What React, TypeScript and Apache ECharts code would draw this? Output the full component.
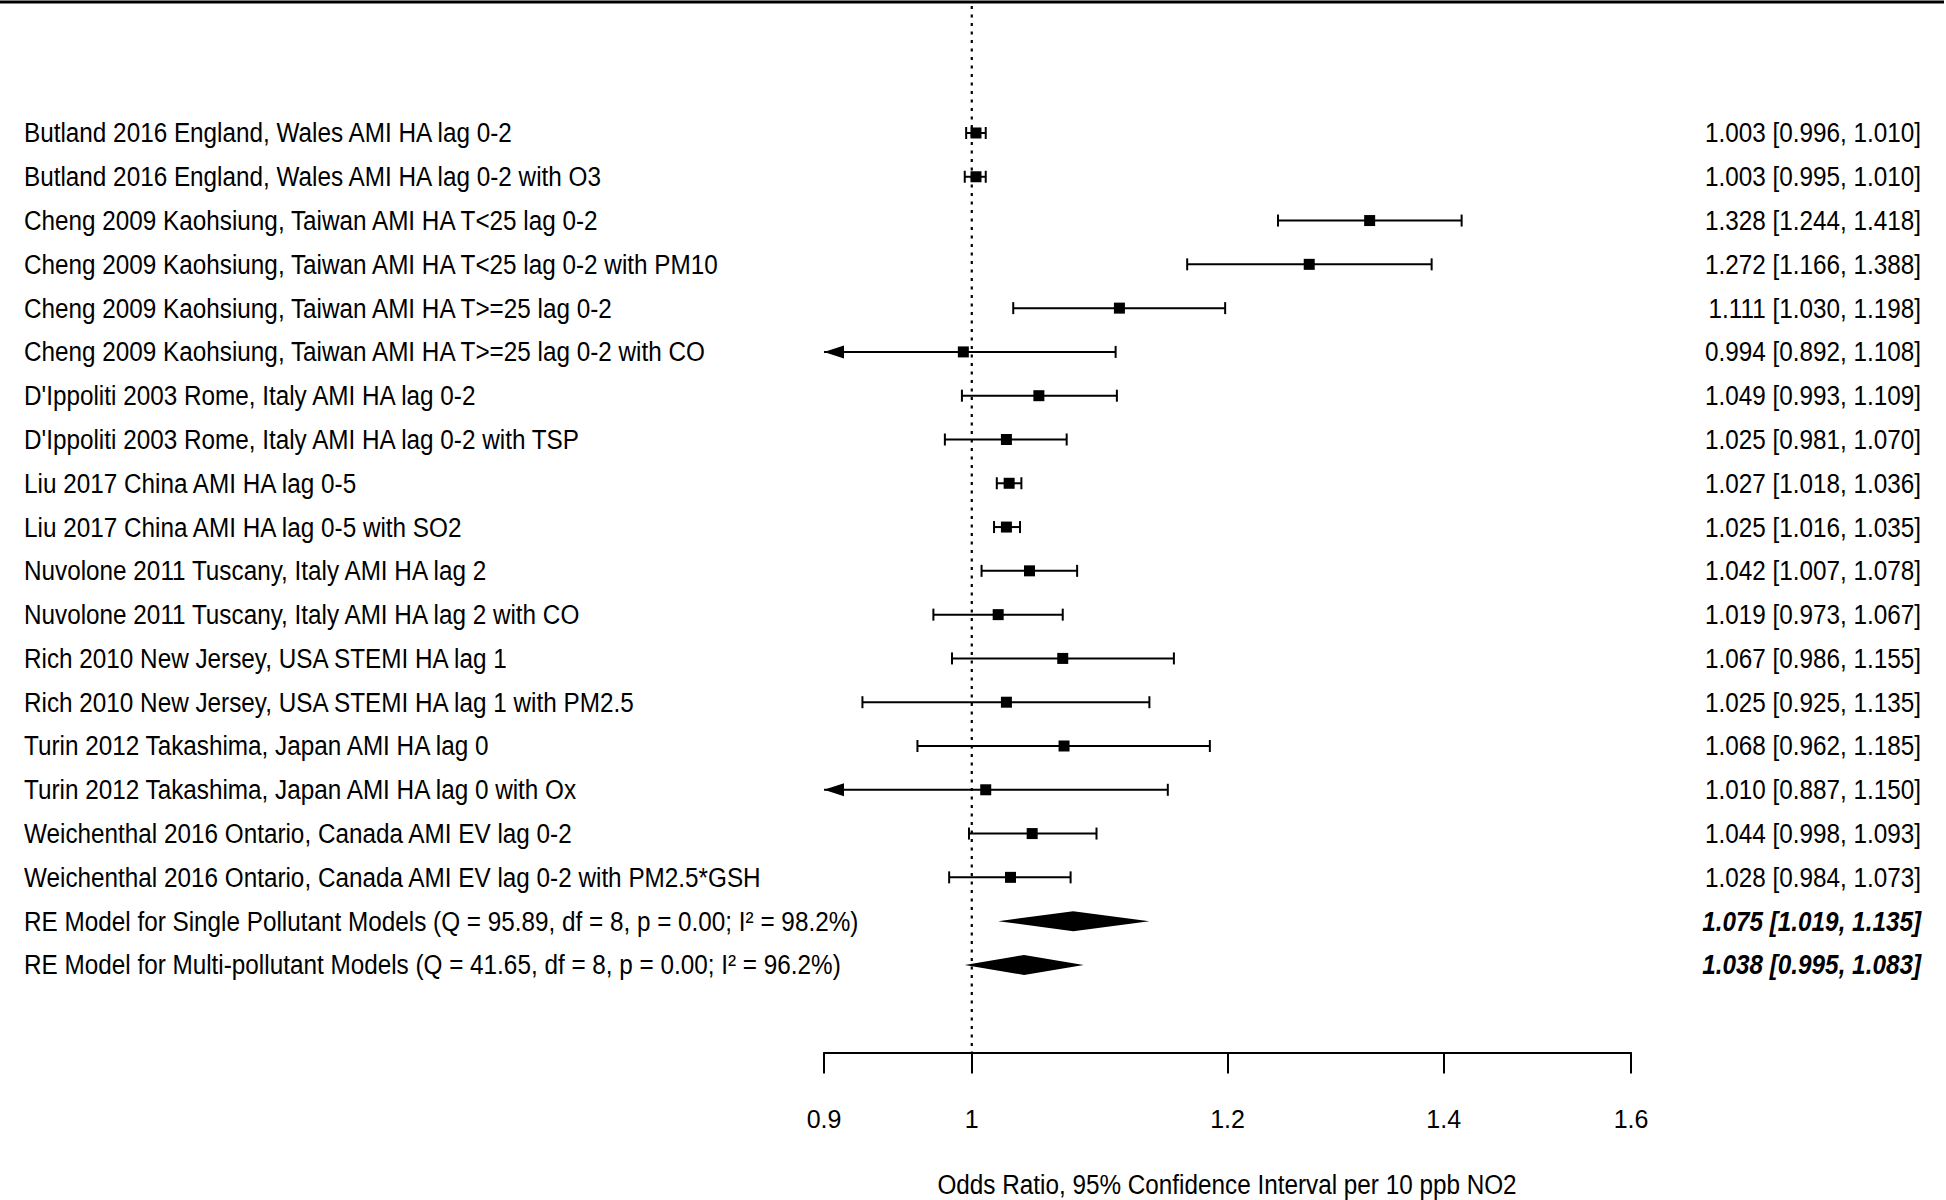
import React, { useEffect, useRef } from "react";
import * as echarts from "echarts";

const studyLabels = [
  "Butland 2016 England, Wales AMI HA lag 0-2",
  "Butland 2016 England, Wales AMI HA lag 0-2 with O3",
  "Cheng 2009 Kaohsiung, Taiwan AMI HA T<25 lag 0-2",
  "Cheng 2009 Kaohsiung, Taiwan AMI HA T<25 lag 0-2 with PM10",
  "Cheng 2009 Kaohsiung, Taiwan AMI HA T>=25 lag 0-2",
  "Cheng 2009 Kaohsiung, Taiwan AMI HA T>=25 lag 0-2 with CO",
  "D'Ippoliti 2003 Rome, Italy AMI HA lag 0-2",
  "D'Ippoliti 2003 Rome, Italy AMI HA lag 0-2 with TSP",
  "Liu 2017 China AMI HA lag 0-5",
  "Liu 2017 China AMI HA lag 0-5 with SO2",
  "Nuvolone 2011 Tuscany, Italy AMI HA lag 2",
  "Nuvolone 2011 Tuscany, Italy AMI HA lag 2 with CO",
  "Rich 2010 New Jersey, USA STEMI HA lag 1",
  "Rich 2010 New Jersey, USA STEMI HA lag 1 with PM2.5",
  "Turin 2012 Takashima, Japan AMI HA lag 0",
  "Turin 2012 Takashima, Japan AMI HA lag 0 with Ox",
  "Weichenthal 2016 Ontario, Canada AMI EV lag 0-2",
  "Weichenthal 2016 Ontario, Canada AMI EV lag 0-2 with PM2.5*GSH",
];
const studyEst = [1.003, 1.003, 1.328, 1.272, 1.111, 0.994, 1.049, 1.025, 1.027, 1.025, 1.042, 1.019, 1.067, 1.025, 1.068, 1.01, 1.044, 1.028];
const studyLo = [0.996, 0.995, 1.244, 1.166, 1.03, 0.892, 0.993, 0.981, 1.018, 1.016, 1.007, 0.973, 0.986, 0.925, 0.962, 0.887, 0.998, 0.984];
const studyHi = [1.01, 1.01, 1.418, 1.388, 1.198, 1.108, 1.109, 1.07, 1.036, 1.035, 1.078, 1.067, 1.155, 1.135, 1.185, 1.15, 1.093, 1.073];

const pooledLabels = [
  "RE Model for Single Pollutant Models (Q = 95.89, df = 8, p = 0.00; I\u00B2 = 98.2%)",
  "RE Model for Multi-pollutant Models (Q = 41.65, df = 8, p = 0.00; I\u00B2 = 96.2%)",
];
const pooledEst = [1.075, 1.038];
const pooledLo = [1.019, 0.995];
const pooledHi = [1.135, 1.083];

const tickValues = [0.9, 1, 1.2, 1.4, 1.6];
const axisTitle = "Odds Ratio, 95% Confidence Interval per 10 ppb NO2";

const FONT = '"Liberation Sans", Arial, sans-serif';
const TXT = `27px ${FONT}`;
const SX = 0.9;
const fmt = (v: number) => v.toFixed(3);
const ciText = (e: number, l: number, h: number) => `${fmt(e)} [${fmt(l)}, ${fmt(h)}]`;

export default function App() {
  const ref = useRef<HTMLDivElement>(null);
  useEffect(() => {
    document.body.style.margin = "0";
    const chart = echarts.init(ref.current!, null, { renderer: "svg" });
    const logTicks = tickValues.map((v) => Math.log(v));
    const xmin = Math.log(tickValues[0]);
    const xmax = Math.log(tickValues[tickValues.length - 1]);
    const nStudies = studyLabels.length;

    const studyData = studyEst.map((e, i) => [i + 1, Math.log(e), Math.log(studyLo[i]), Math.log(studyHi[i])]);
    const pooledData = pooledEst.map((e, i) => [nStudies + 1 + i, Math.log(e), Math.log(pooledLo[i]), Math.log(pooledHi[i])]);

    const blk = "#000";
    const label = (text: string, x: number, y: number, align: string, font: string) => ({
      type: "text", x, y, scaleX: SX, scaleY: 1,
      style: { text, fill: blk, font, align, verticalAlign: "middle" },
    });

    const studyRender = (params: any, api: any) => {
      const i = params.dataIndex;
      const row = api.value(0);
      const e = api.value(1);
      const lo = api.value(2);
      const hi = api.value(3);
      const [xe, y] = api.coord([e, row]);
      const clipLo = lo < xmin;
      const xl = api.coord([clipLo ? xmin : lo, row])[0];
      const xh = api.coord([Math.min(hi, xmax), row])[0];
      const children: any[] = [];
      children.push({ type: "line", shape: { x1: xl, y1: y, x2: xh, y2: y }, style: { stroke: blk, lineWidth: 2 } });
      if (clipLo) {
        children.push({ type: "polygon", shape: { points: [[xl, y], [xl + 20, y - 6.5], [xl + 20, y + 6.5]] }, style: { fill: blk } });
      } else {
        children.push({ type: "line", shape: { x1: xl, y1: y - 6, x2: xl, y2: y + 6 }, style: { stroke: blk, lineWidth: 2 } });
      }
      children.push({ type: "line", shape: { x1: xh, y1: y - 6, x2: xh, y2: y + 6 }, style: { stroke: blk, lineWidth: 2 } });
      children.push({ type: "rect", shape: { x: xe - 5.5, y: y - 5.5, width: 11, height: 11 }, style: { fill: blk } });
      children.push(label(studyLabels[i], 24, y, "left", TXT));
      children.push(label(ciText(studyEst[i], studyLo[i], studyHi[i]), 1921, y, "right", TXT));
      return { type: "group", children };
    };

    const pooledRender = (params: any, api: any) => {
      const i = params.dataIndex;
      const row = api.value(0);
      const [xe, y] = api.coord([api.value(1), row]);
      const xl = api.coord([api.value(2), row])[0];
      const xh = api.coord([api.value(3), row])[0];
      return {
        type: "group",
        children: [
          { type: "polygon", shape: { points: [[xl, y], [xe, y - 10], [xh, y], [xe, y + 10]] }, style: { fill: blk } },
          label(pooledLabels[i], 24, y, "left", TXT),
          label(ciText(pooledEst[i], pooledLo[i], pooledHi[i]), 1921, y, "right", `italic bold 27px ${FONT}`),
        ],
      };
    };

    chart.setOption({
      animation: false,
      backgroundColor: "#fff",
      grid: { left: 824, right: 315, top: 6, bottom: 147.5, containLabel: false },
      xAxis: {
        type: "value",
        min: xmin,
        max: xmax,
        splitLine: { show: false },
        axisLine: { show: true, onZero: false, lineStyle: { color: blk, width: 2 } },
        axisTick: { show: true, inside: false, length: 21, customValues: logTicks, lineStyle: { color: blk, width: 2 } },
        axisLabel: {
          show: true,
          customValues: logTicks,
          margin: 54,
          color: blk,
          fontSize: 25,
          fontFamily: FONT,
          formatter: (v: number) => {
            const k = logTicks.findIndex((t) => Math.abs(t - v) < 1e-6);
            return k >= 0 ? String(tickValues[k]) : "";
          },
        },
      },
      yAxis: {
        type: "value",
        min: -1.9,
        max: nStudies + 4,
        inverse: true,
        show: false,
      },
      graphic: [
        { type: "line", shape: { x1: 0, y1: 2, x2: 1944, y2: 2 }, style: { stroke: blk, lineWidth: 3 } },
        {
          type: "text", x: 1227, y: 1185, scaleX: SX, scaleY: 1,
          style: { text: axisTitle, fill: blk, font: TXT, align: "center", verticalAlign: "middle" },
        },
      ],
      series: [
        {
          type: "line",
          data: [[0, -1.9], [0, nStudies + 4]],
          symbol: "none",
          lineStyle: { color: blk, width: 2.2, type: [3, 5.5] },
          silent: true,
        },
        { type: "custom", data: studyData, renderItem: studyRender, clip: false, encode: { x: [1, 2, 3], y: 0 } },
        { type: "custom", data: pooledData, renderItem: pooledRender, clip: false, encode: { x: [1, 2, 3], y: 0 } },
      ],
    });
    return () => chart.dispose();
  }, []);
  return <div ref={ref} style={{ position: "absolute", left: 0, top: 0, width: 1946, height: 1200 }} />;
}
